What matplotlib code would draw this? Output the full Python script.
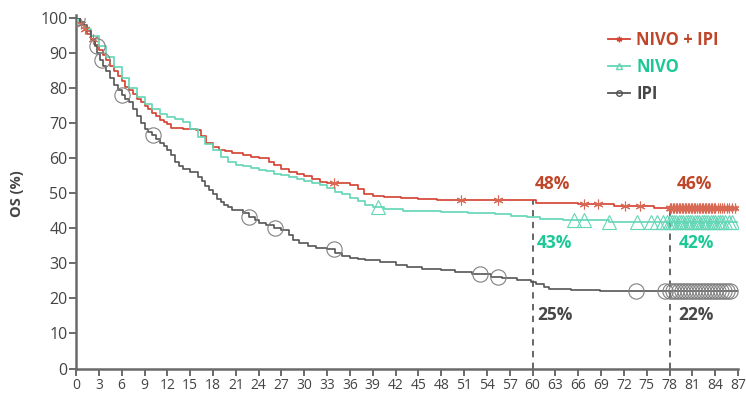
import numpy as np
import matplotlib
matplotlib.use("Agg")
import matplotlib.pyplot as plt
from matplotlib.lines import Line2D

plt.rcParams['font.family'] = ['Open Sans', 'DejaVu Sans']

# ---- Kaplan-Meier overall survival (months, %) ----
combo_t = [0, 0.5, 1, 1.5, 2, 2.5, 3, 3.5, 4, 4.5, 5, 5.5, 6, 6.5, 7, 7.5, 8, 8.5, 9, 9.5,
           10, 10.5, 11, 11.5, 12, 12.5, 14, 15.8, 16.4, 17.1, 18, 18.8, 19.6, 20.5, 22, 23,
           24, 25.4, 26, 27, 28, 29, 30, 31, 32, 33, 36, 37, 37.8, 39, 40.5, 42.7, 45, 47.5,
           60.5, 66, 70.7, 76, 87]
combo_s = [100, 98.5, 97, 95.5, 94, 92.5, 91, 89.5, 88, 86.5, 85, 83.5, 82, 80.5, 79.5, 78.5, 77, 76, 75, 74,
           73, 72, 71, 70.5, 69.8, 68.8, 68.5, 68.1, 66.5, 64.5, 63.4, 62.4, 62, 61.5, 61, 60.5,
           60, 59.1, 58.2, 57, 56, 55.5, 55, 54, 53.4, 53, 52.4, 51.2, 49.8, 49.3, 49, 48.7, 48.4, 48.0,
           47.4, 47.1, 46.5, 45.8, 45.8]

nivo_t = [0, 0.3, 1, 2, 3, 4, 5, 6, 7, 8, 9, 10, 11, 12, 13, 14, 15, 16, 17, 18, 19, 20, 21,
          22, 23, 24, 25, 26, 27, 28, 29, 30, 31, 32, 33, 34, 35, 36, 37, 38, 39, 40.5, 43,
          48, 51.5, 55, 57.2, 59.2, 61, 64, 70, 76, 87]
nivo_s = [100, 98.5, 97, 95, 92, 89, 86, 83, 80, 77.5, 75.5, 74, 72.6, 71.8, 71.2, 70.5, 68.5, 66, 64, 62.3, 60.5, 59, 58,
          57.7, 57.3, 56.8, 56.3, 55.6, 55.3, 54.6, 54, 53.5, 53, 52.3, 51.5, 50.5, 49.8, 48.8, 47.8, 46.8, 46.2, 45.5, 45.1,
          44.8, 44.5, 44, 43.6, 43.2, 42.6, 42.3, 41.9, 41.7, 41.7]

ipi_t = [0, 0.5, 1, 1.5, 2, 2.5, 2.8, 3.2, 3.6, 4, 4.5, 5, 5.5, 6, 6.5, 7, 7.5, 8, 8.5, 9, 9.5,
         10, 10.5, 11, 11.5, 12, 12.5, 13, 13.5, 14, 15, 16, 16.5, 17, 17.5, 18, 18.5, 19, 19.5,
         20, 20.5, 22, 22.7, 23.5, 24, 25, 26, 27, 28, 28.5, 29.3, 30.5, 31.5, 33, 34, 35, 36,
         37, 38, 40, 42, 43.5, 45.4, 48, 49.8, 52, 54.5, 56, 58, 59.8, 60.5, 61.5, 62.2, 65,
         68.9, 87]
ipi_s = [100, 99, 98, 96.5, 94, 92, 90, 88, 86.5, 85, 83, 81, 79.5, 78, 77, 76, 74, 72, 70, 68.5, 67.5,
         66.7, 65.5, 64.5, 63.5, 62.5, 61, 59, 57.8, 57, 56, 54.8, 53.5, 52.2, 51, 49.8, 48.5, 47.5, 46.8,
         46, 45.3, 44.5, 43.2, 42.5, 41.6, 41, 40, 39.6, 38, 36.8, 35.8, 35, 34.4, 34, 33, 32.2, 31.7,
         31.3, 31, 30.3, 29.6, 29, 28.4, 28, 27.7, 27, 26.2, 25.8, 25.3, 24.8, 24, 23.3, 22.8, 22.5,
         22, 22]

# ---- censored observations (months) ----
combo_cens = [0.6, 1.2, 2.2, 33.9, 50.6, 55.4, 66.8, 68.6, 72.2, 74.1,
              78.0, 78.2, 78.4, 78.6, 78.8, 79.0, 79.2, 79.4, 79.6, 79.8, 80.0, 80.2, 80.4,
              80.6, 80.8, 81.0, 81.2, 81.4, 81.6, 81.8, 82.0, 82.2, 82.4, 82.6, 82.8, 83.0,
              83.2, 83.4, 83.6, 83.8, 84.0, 84.3, 84.6, 84.9, 85.2, 85.5, 85.8, 86.2, 86.6]
nivo_cens = [39.7, 65.5, 66.8, 70.0, 73.7, 75.5, 76.4, 77.1, 77.7,
             78.0, 78.3, 78.6, 78.9, 79.2, 79.5, 79.8, 80.1, 80.4, 80.7, 81.0, 81.3, 81.6,
             81.9, 82.2, 82.5, 82.8, 83.1, 83.4, 83.7, 84.0, 84.3, 84.6, 84.9, 85.3, 85.8, 86.2]
ipi_cens = [0.1, 2.7, 3.4, 6.1, 10.1, 22.7, 26.2, 33.9, 53.1, 55.4, 73.6, 77.4,
            78.0, 78.4, 78.8, 79.2, 79.6, 80.0, 80.4, 80.8, 81.2, 81.6, 82.0, 82.4, 82.8,
            83.2, 83.6, 84.0, 84.4, 84.8, 85.2, 85.6, 86.0]

landmarks = [60, 78]
combo_lbl = ["48%", "46%"]
nivo_lbl = ["43%", "42%"]
ipi_lbl = ["25%", "22%"]

series_names = ["NIVO + IPI", "NIVO", "IPI"]
x_ticks = list(range(0, 88, 3))
y_ticks = list(range(0, 101, 10))

RED_LINE, RED_TXT = "#d4402f", "#c0462a"
TEAL_LINE, TEAL_TXT = "#62d6b5", "#1cc996"
GRAY_LINE, GRAY_TXT = "#555555", "#474747"
AXIS_C = "#6a6a6a"


def step_value(t, s, x):
    idx = np.searchsorted(t, x, side="right") - 1
    return np.asarray(s)[np.clip(idx, 0, len(s) - 1)]


fig = plt.figure(figsize=(7.46, 3.96), dpi=100)
ax = fig.add_axes([0.1019, 0.0694, 0.8875, 0.8843])

curves = [
    (combo_t, combo_s, combo_cens, RED_LINE, (6, 2, 0), 7, "#d86a55"),
    (nivo_t, nivo_s, nivo_cens, TEAL_LINE, "^", 10, TEAL_LINE),
    (ipi_t, ipi_s, ipi_cens, GRAY_LINE, "o", 11, "#808080"),
]

for t, s, cens, col, mk, ms, mcol in curves:
    ax.step(t, s, where="post", color=col, lw=1.2, zorder=3)
    cy = step_value(np.asarray(t), s, np.asarray(cens))
    if mk == "o" or mk == "^":
        ax.plot(cens, cy, ls="none", marker=mk, ms=ms, mfc="none", mec=mcol, mew=0.8, zorder=4)
    else:
        ax.plot(cens, cy, ls="none", marker=mk, ms=ms, color=mcol, mew=0.8, zorder=4)

# landmark dashed lines
for lm in landmarks:
    top = step_value(np.asarray(combo_t), combo_s, lm)
    ax.plot([lm, lm], [0, top], ls=(0, (3.5, 3)), color="#5a5a5a", lw=1.3, zorder=2)

# landmark labels
label_pos = {60: 60.3, 78: 78.9}
for i, lm in enumerate(landmarks):
    xl = label_pos[lm]
    ax.text(xl, 52.6, combo_lbl[i], color=RED_TXT, fontsize=12.5, fontweight="bold", va="center", ha="left")
    ax.text(xl + 0.3, 35.8, nivo_lbl[i], color=TEAL_TXT, fontsize=12.5, fontweight="bold", va="center", ha="left")
    ax.text(xl + 0.3, 15.4, ipi_lbl[i], color=GRAY_TXT, fontsize=12.5, fontweight="bold", va="center", ha="left")

ax.set_xlim(0, 87)
ax.set_ylim(0, 100)
ax.set_xticks(x_ticks)
ax.set_yticks(y_ticks)
ax.tick_params(axis="x", labelsize=10, colors="#444444", length=5, width=1.4, color=AXIS_C, pad=2)
ax.tick_params(axis="y", labelsize=11.5, colors="#444444", length=5, width=1.4, color=AXIS_C, pad=1)
for side in ("top", "right"):
    ax.spines[side].set_visible(False)
for side in ("left", "bottom"):
    ax.spines[side].set_color(AXIS_C)
    ax.spines[side].set_linewidth(1.8)
ax.spines["left"].set_bounds(0, 101)
ax.set_ylabel("OS (%)", fontsize=10.5, fontweight="bold", color="#444444", labelpad=12)

handles = [
    Line2D([], [], color=RED_LINE, lw=1.3, marker=(6, 2, 0), ms=4),
    Line2D([], [], color=TEAL_LINE, lw=1.3, marker="^", ms=4, mfc="none"),
    Line2D([], [], color=GRAY_LINE, lw=1.3, marker="o", ms=4, mfc="none"),
]
leg = fig.legend(handles, series_names, loc="upper left", bbox_to_anchor=(0.795, 0.96),
                 frameon=False, handlelength=1.3, handletextpad=0.4,
                 labelspacing=0.55, labelcolor=[RED_TXT, TEAL_TXT, GRAY_TXT],
                 prop={"weight": "bold", "size": 12})

fig.savefig("out.png", dpi=100)
